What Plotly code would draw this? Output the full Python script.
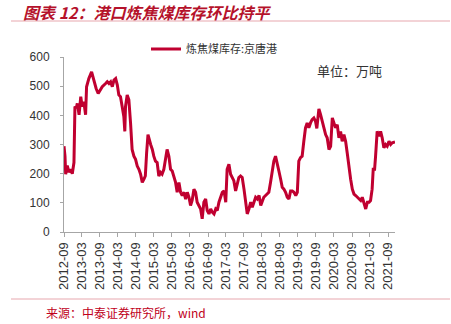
import plotly.graph_objects as go

# ---- data ----
dates = [
    "2012-09-01", "2012-09-11", "2012-09-18", "2012-10-04", "2012-10-21", "2012-11-08", "2012-11-24",
    "2012-12-11", "2012-12-21", "2013-01-04", "2013-01-14", "2013-02-01", "2013-02-18", "2013-03-04",
    "2013-03-21", "2013-04-08", "2013-04-18", "2013-05-11", "2013-06-08", "2013-07-01", "2013-07-24",
    "2013-08-14", "2013-09-08", "2013-09-24", "2013-10-28", "2013-11-14", "2013-12-01", "2013-12-18",
    "2014-01-04", "2014-01-21", "2014-02-07", "2014-02-24", "2014-03-11", "2014-03-28", "2014-04-14",
    "2014-05-01", "2014-05-11", "2014-05-18", "2014-06-04", "2014-06-21", "2014-07-08", "2014-07-24",
    "2014-08-11", "2014-08-28", "2014-09-14", "2014-10-01", "2014-10-18", "2014-11-04", "2014-11-21",
    "2014-12-05", "2014-12-18", "2015-01-01", "2015-01-28", "2015-02-14", "2015-03-01", "2015-03-18",
    "2015-04-04", "2015-04-21", "2015-05-08", "2015-05-24", "2015-06-11", "2015-06-28", "2015-07-14",
    "2015-08-01", "2015-08-18", "2015-09-04", "2015-09-21", "2015-10-08", "2015-10-24", "2015-11-11",
    "2015-11-28", "2015-12-14", "2016-01-01", "2016-01-18", "2016-02-04", "2016-02-21", "2016-03-08",
    "2016-03-24", "2016-04-11", "2016-04-28", "2016-05-14", "2016-06-01", "2016-06-18", "2016-07-04",
    "2016-07-21", "2016-08-08", "2016-08-24", "2016-09-11", "2016-09-28", "2016-10-14", "2016-11-01",
    "2016-11-18", "2016-12-04", "2016-12-21", "2017-01-08", "2017-01-24", "2017-02-11", "2017-02-28",
    "2017-03-14", "2017-04-01", "2017-04-18", "2017-05-04", "2017-05-21", "2017-06-08", "2017-06-24",
    "2017-07-11", "2017-07-28", "2017-08-14", "2017-09-01", "2017-09-18", "2017-10-04", "2017-10-21",
    "2017-11-08", "2017-11-24", "2017-12-11", "2017-12-28", "2018-01-14", "2018-02-01", "2018-02-18",
    "2018-03-04", "2018-03-21", "2018-04-08", "2018-04-24", "2018-05-11", "2018-05-28", "2018-06-14",
    "2018-07-01", "2018-07-18", "2018-08-04", "2018-08-21", "2018-09-08", "2018-09-24", "2018-10-11",
    "2018-10-28", "2018-11-14", "2018-12-01", "2018-12-18", "2019-01-04", "2019-01-21", "2019-02-08",
    "2019-02-24", "2019-03-11", "2019-03-28", "2019-04-14", "2019-05-01", "2019-05-18", "2019-06-04",
    "2019-06-21", "2019-07-08", "2019-07-24", "2019-08-11", "2019-08-28", "2019-09-10", "2019-09-20",
    "2019-10-01", "2019-10-18", "2019-11-04", "2019-11-21", "2019-12-08", "2019-12-24", "2020-01-11",
    "2020-01-28", "2020-02-14", "2020-03-01", "2020-03-18", "2020-04-04", "2020-04-21", "2020-05-08",
    "2020-05-24", "2020-06-11", "2020-06-28", "2020-07-14", "2020-08-01", "2020-08-18", "2020-09-04",
    "2020-09-21", "2020-10-08", "2020-10-24", "2020-11-11", "2020-11-28", "2020-12-14", "2021-01-01",
    "2021-01-18", "2021-02-04", "2021-02-21", "2021-03-08", "2021-03-24", "2021-04-04", "2021-04-18",
    "2021-04-28", "2021-05-14", "2021-06-01", "2021-06-18", "2021-07-04", "2021-07-21", "2021-08-08",
    "2021-08-24", "2021-09-11", "2021-09-28", "2021-10-14", "2021-11-01", "2021-11-11",
]
stock = [
    294, 260, 198, 228, 205, 215, 200,
    238, 430, 425, 441, 402, 464, 430,
    447, 402, 498, 526, 549, 515, 492,
    475, 492, 498, 509, 515, 509, 515,
    498, 521, 526, 504, 470, 464, 430,
    396, 345, 430, 470, 453, 374, 283,
    260, 249, 226, 215, 198, 170, 181,
    192, 270, 334, 300, 283, 260, 243,
    238, 192, 204, 198, 215, 255, 283,
    260, 215, 209, 192, 170, 136, 170,
    136, 125, 136, 113, 136, 119, 91,
    108, 147, 136, 102, 91, 79, 45,
    102, 113, 74, 62, 79, 68, 62,
    79, 74, 102, 125, 136, 141, 102,
    215, 232, 198, 185, 176, 141, 170,
    187, 192, 187, 147, 102, 62, 79,
    102, 85, 102, 119, 113, 125, 91,
    102, 119, 125, 130, 136, 170, 215,
    243, 260, 238, 209, 181, 153, 147,
    136, 119, 113, 141, 141, 136, 125,
    136, 243, 255, 260, 311, 357, 374,
    357, 374, 385, 391, 379, 355, 400,
    422, 402, 374, 357, 334, 323, 283,
    294, 391, 374, 357, 368, 323, 345,
    311, 334, 311, 272, 221, 181, 147,
    130, 125, 119, 113, 108, 119, 102,
    79, 102, 102, 108, 147, 215, 215,
    260, 345, 328, 345, 323, 289, 300,
    294, 311, 300, 306, 309, 309,
]
series_name = "炼焦煤库存:京唐港"
y_ticks = [0, 100, 200, 300, 400, 500, 600]

# ---- layout geometry (pixels) ----
W, H = 451, 324
L, R, T, B = 64, 56, 57, 92
PW, PH = W - L - R, H - T - B


def px(x):
    return (x - L) / PW


def py(y):
    return (H - B - y) / PH


RED = "#C00030"
TITLE_RED = "#B5122B"
RULE = "#E7A7AE"
AXIS = "#A6A6A6"
CJK = "Noto Sans CJK SC"

fig = go.Figure()
fig.add_trace(go.Scatter(
    x=dates, y=stock, mode="lines", name=series_name,
    line=dict(color=RED, width=3), showlegend=True,
))

fig.update_layout(
    width=W, height=H,
    margin=dict(l=L, r=R, t=T, b=B, pad=0),
    paper_bgcolor="white", plot_bgcolor="white",
    font=dict(family="Liberation Sans, Arial", size=12, color="#333333"),
    showlegend=True,
    legend=dict(
        x=px(146), y=py(49), xanchor="left", yanchor="middle",
        font=dict(family=CJK, size=11, color="#333333"),
        bgcolor="rgba(0,0,0,0)", borderwidth=0, itemwidth=30,
    ),
    xaxis=dict(
        type="date", tickformat="%Y-%m", dtick="M6", tick0="2012-09-01",
        tickangle=-90, ticks="outside", ticklen=4, tickcolor=AXIS,
        showline=True, linecolor=AXIS, linewidth=1, showgrid=False, zeroline=False,
        tickfont=dict(family="Liberation Sans, Arial", size=13, color="#333333"),
        range=[dates[0], dates[-1]],
    ),
    yaxis=dict(
        range=[0, 600], tickvals=y_ticks, ticks="outside", ticklen=3, tickcolor=AXIS,
        showline=True, linecolor=AXIS, linewidth=1, showgrid=False, zeroline=False,
        tickfont=dict(family="Liberation Sans, Arial", size=12, color="#333333"),
        ticklabelstandoff=8,
    ),
)

# title
fig.add_annotation(
    text="图表 12：港口炼焦煤库存环比持平", xref="paper", yref="paper",
    x=px(21), y=py(12), xanchor="left", yanchor="middle", showarrow=False,
    font=dict(family=CJK, size=16, color=TITLE_RED, weight="bold", style="italic"),
)
# rules
fig.add_shape(type="line", xref="paper", yref="paper", x0=px(11), x1=px(450), y0=py(21), y1=py(21),
              line=dict(color=RULE, width=1))
fig.add_shape(type="line", xref="paper", yref="paper", x0=px(11), x1=px(450), y0=py(299), y1=py(299),
              line=dict(color=RULE, width=1))
# unit
fig.add_annotation(
    text="单位：万吨", xref="paper", yref="paper", x=px(315), y=py(70),
    xanchor="left", yanchor="middle", showarrow=False,
    font=dict(family=CJK, size=13, color="#333333"),
)
# source
fig.add_annotation(
    text="来源：中泰证券研究所，wind", xref="paper", yref="paper", x=px(44), y=py(312),
    xanchor="left", yanchor="middle", showarrow=False,
    font=dict(family=CJK, size=12, color="#C0001A"),
)

fig.write_html("out.html")
